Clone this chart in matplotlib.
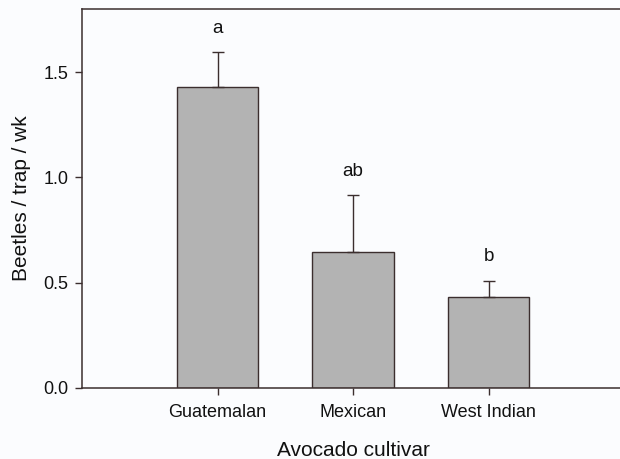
import matplotlib
matplotlib.use("Agg")
import matplotlib.pyplot as plt
import numpy as np

plt.rcParams["font.family"] = ["Liberation Sans", "DejaVu Sans"]

cultivars = ["Guatemalan", "Mexican", "West Indian"]
means = [1.428, 0.643, 0.429]
sems = [0.166, 0.271, 0.079]
letters = ["a", "ab", "b"]

edge = "#3b2e2e"

fig = plt.figure(figsize=(6.2, 4.59), dpi=100)
fig.patch.set_facecolor("#fbfcfe")
ax = fig.add_axes([0.1323, 0.1553, 0.8742, 0.8251])
ax.set_facecolor("#fbfcfe")

x = np.arange(len(cultivars))
ax.bar(x, means, width=0.6, color="#b3b3b3", edgecolor=edge, linewidth=1.0, zorder=2)
ax.errorbar(x, means, yerr=[np.zeros(len(sems)), sems], fmt="none",
            ecolor=edge, elinewidth=1.0, capsize=4, capthick=1.0, zorder=3)

# significance letters above each error bar
for xi, m, s, lab in zip(x, means, sems, letters):
    ax.text(xi, m + s + 0.075, lab, ha="center", va="bottom", fontsize=13.5, color="#111111")

ax.set_xlim(-1, 3)
ax.set_ylim(0, 1.8)
ax.set_xticks(x)
ax.set_xticklabels(cultivars)
ax.set_yticks([0.0, 0.5, 1.0, 1.5])
ax.set_yticklabels(["0.0", "0.5", "1.0", "1.5"])
ax.tick_params(axis="both", direction="out", length=5, width=1, colors=edge,
               labelsize=13, labelcolor="#111111")
ax.tick_params(axis="x", pad=7)
ax.tick_params(axis="y", pad=5)

for side in ["left", "bottom", "top", "right"]:
    ax.spines[side].set_color(edge)
    ax.spines[side].set_linewidth(1.1)

ax.set_xlabel("Avocado cultivar", fontsize=15, color="#111111", labelpad=14)
ax.set_ylabel("Beetles / trap / wk", fontsize=15, color="#111111", labelpad=9)

fig.savefig("out.png", dpi=100, facecolor=fig.get_facecolor())
